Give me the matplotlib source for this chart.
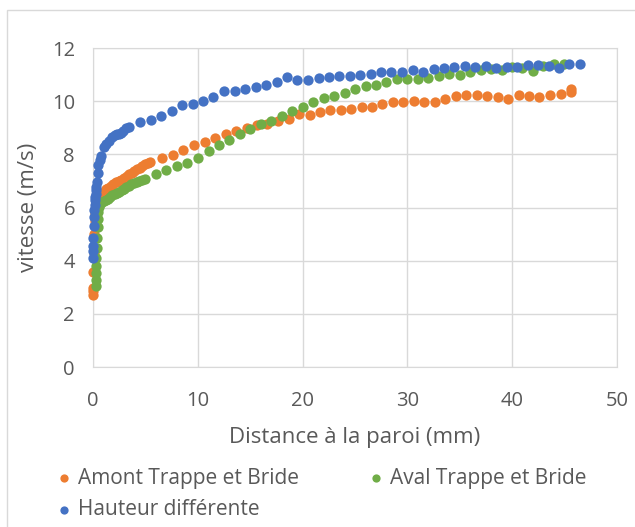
import matplotlib
matplotlib.use("Agg")
import matplotlib.pyplot as plt
from matplotlib.patches import Rectangle

plt.rcParams['font.family'] = ['Open Sans', 'DejaVu Sans']

# Amont Trappe et Bride
amont_x = [0.0, 0.0, 0.0, 0.0, 0.05, 0.1, 0.15, 0.2, 0.3, 0.4, 0.5, 0.65, 0.8,
           1.0, 1.2, 1.45, 1.7, 1.95, 2.2, 2.45, 2.7, 2.95, 3.2, 3.45, 3.7,
           3.95, 4.2, 4.45, 4.7, 4.95, 5.2, 5.45,
           6.6, 7.6, 8.6, 9.65, 10.65, 11.65, 12.65, 13.65, 14.67, 15.65,
           16.63, 17.65, 18.67, 19.65, 20.67, 21.65, 22.63, 23.65, 24.63,
           25.62, 26.63, 27.62, 28.63, 29.62, 30.63, 31.62, 32.63, 33.62,
           34.6, 35.62, 36.6, 37.62, 38.63, 39.62, 40.63, 41.62, 42.6, 43.62,
           44.63, 45.62, 45.62]
amont_y = [2.72, 2.85, 2.97, 3.58, 4.3, 5.0, 5.5, 5.8, 6.05, 6.2, 6.3, 6.4, 6.5,
           6.6, 6.68, 6.75, 6.82, 6.88, 6.95, 7.0, 7.05, 7.1, 7.17, 7.25, 7.3,
           7.38, 7.43, 7.5, 7.56, 7.62, 7.68, 7.72,
           7.87, 7.97, 8.16, 8.35, 8.47, 8.63, 8.77, 8.88, 9.0, 9.09,
           9.13, 9.25, 9.34, 9.52, 9.49, 9.59, 9.65, 9.65, 9.69,
           9.79, 9.79, 9.91, 9.96, 9.98, 10.02, 9.98, 9.98, 10.1,
           10.19, 10.22, 10.22, 10.19, 10.16, 10.1, 10.22, 10.19, 10.16, 10.22,
           10.27, 10.34, 10.44]

# Aval Trappe et Bride
aval_x = [0.26, 0.26, 0.26, 0.3, 0.32, 0.35, 0.4, 0.45, 0.48, 0.52, 0.58, 0.7,
          0.85, 1.02, 1.25, 1.44, 1.65, 1.85, 2.05, 2.24, 2.5, 2.72, 2.95, 3.19,
          3.43, 3.67, 3.9, 4.15, 4.4, 4.63, 4.95,
          6.0, 7.0, 8.0, 9.0, 10.0, 11.02, 12.03, 13.02, 14.03, 14.98, 16.0,
          16.98, 18.0, 19.02, 20.0, 21.02, 22.0, 22.98, 24.0, 24.98, 26.0,
          26.98, 28.0, 28.98, 30.0, 30.98, 32.0, 32.98, 34.0, 34.98, 36.0,
          36.98, 38.0, 38.98, 40.0, 40.98, 41.97, 42.95, 43.97, 44.98]
aval_y = [3.04, 3.29, 3.54, 3.8, 4.11, 4.49, 4.87, 5.25, 5.57, 5.82, 6.01, 6.12,
          6.2, 6.26, 6.3, 6.33, 6.4, 6.46, 6.51, 6.56, 6.6, 6.65, 6.71, 6.77,
          6.82, 6.87, 6.92, 6.96, 7.0, 7.03, 7.06,
          7.25, 7.41, 7.55, 7.68, 7.87, 8.12, 8.34, 8.54, 8.77, 8.96, 9.15,
          9.27, 9.44, 9.62, 9.77, 9.96, 10.12, 10.21, 10.31, 10.46, 10.56,
          10.62, 10.71, 10.85, 10.85, 10.85, 10.88, 10.94, 11.02, 11.0, 11.1,
          11.19, 11.21, 11.16, 11.29, 11.25, 11.15, 11.31, 11.4, 11.38]

# Hauteur différente
hauteur_x = [0.0, 0.0, 0.0, 0.0, 0.05, 0.1, 0.13, 0.16, 0.19, 0.22, 0.26, 0.3,
             0.32, 0.38, 0.45, 0.51, 0.64, 0.8, 1.05, 1.28, 1.53, 1.82, 2.08,
             2.3, 2.49, 2.7, 2.88, 3.13, 3.45,
             4.47, 5.5, 6.49, 7.51, 8.5, 9.52, 10.51, 11.49, 12.51, 13.52,
             14.54, 15.52, 16.51, 17.52, 18.48, 19.49, 20.51, 21.52, 22.51,
             23.49, 24.51, 25.49, 26.48, 27.49, 28.48, 29.49, 30.51, 31.49,
             32.51, 33.49, 34.48, 35.49, 36.48, 37.46, 38.48, 39.49, 40.48,
             41.46, 42.48, 43.49, 44.44, 45.46, 46.48]
hauteur_y = [4.11, 4.37, 4.56, 4.85, 5.32, 5.63, 5.89, 6.08, 6.27, 6.4, 6.52,
             6.65, 6.77, 6.96, 7.3, 7.6, 7.78, 7.94, 8.27, 8.38, 8.5, 8.65, 8.72,
             8.75, 8.77, 8.82, 8.86, 8.99, 9.03,
             9.22, 9.3, 9.46, 9.62, 9.84, 9.91, 10.0, 10.16, 10.37, 10.37,
             10.46, 10.53, 10.61, 10.71, 10.9, 10.81, 10.81, 10.86, 10.9,
             10.94, 10.94, 10.97, 11.02, 11.1, 11.1, 11.1, 11.19, 11.1,
             11.22, 11.25, 11.27, 11.31, 11.29, 11.34, 11.25, 11.29, 11.29,
             11.37, 11.35, 11.31, 11.25, 11.4, 11.4]

fig = plt.figure(figsize=(6.35, 5.27), dpi=100)
ax = fig.add_axes([0.1465, 0.3036, 0.8252, 0.6053])

grey = '#595959'
s1 = ax.scatter(amont_x, amont_y, s=55, color='#ED7D31', linewidths=0,
                label='Amont Trappe et Bride', zorder=3, clip_on=False)
s2 = ax.scatter(aval_x, aval_y, s=55, color='#70AD47', linewidths=0,
                label='Aval Trappe et Bride', zorder=3, clip_on=False)
s3 = ax.scatter(hauteur_x, hauteur_y, s=55, color='#4472C4', linewidths=0,
                label='Hauteur différente', zorder=3, clip_on=False)

ax.set_xlim(0, 50)
ax.set_ylim(0, 12)
ax.set_xticks(range(0, 51, 10))
ax.set_yticks(range(0, 13, 2))
ax.grid(True, color='#D9D9D9', linewidth=1)
ax.set_axisbelow(True)
for sp in ax.spines.values():
    sp.set_color('#D9D9D9')
ax.tick_params(length=0, labelsize=14.5, colors=grey)
ax.tick_params(axis='x', pad=17)
ax.tick_params(axis='y', pad=13)
ax.set_xlabel('Distance à la paroi (mm)', fontsize=16, color=grey, labelpad=12)
ax.set_ylabel('vitesse (m/s)', fontsize=16, color=grey, labelpad=9)

fig.legend([s1, s3, s2], ['Amont Trappe et Bride', 'Hauteur différente',
                          'Aval Trappe et Bride'],
           ncol=2, loc='upper left', bbox_to_anchor=(0.062, 0.14),
           frameon=False, fontsize=15, labelcolor=grey, markerscale=0.8,
           handletextpad=0.15, handlelength=1.0, columnspacing=3.2,
           labelspacing=0.5, borderpad=0.2)

fig.patches.append(Rectangle((0.011, -0.01), 1.0, 0.991, transform=fig.transFigure,
                             fill=False, edgecolor='#D9D9D9', linewidth=1))

fig.savefig('out.png', dpi=100)
